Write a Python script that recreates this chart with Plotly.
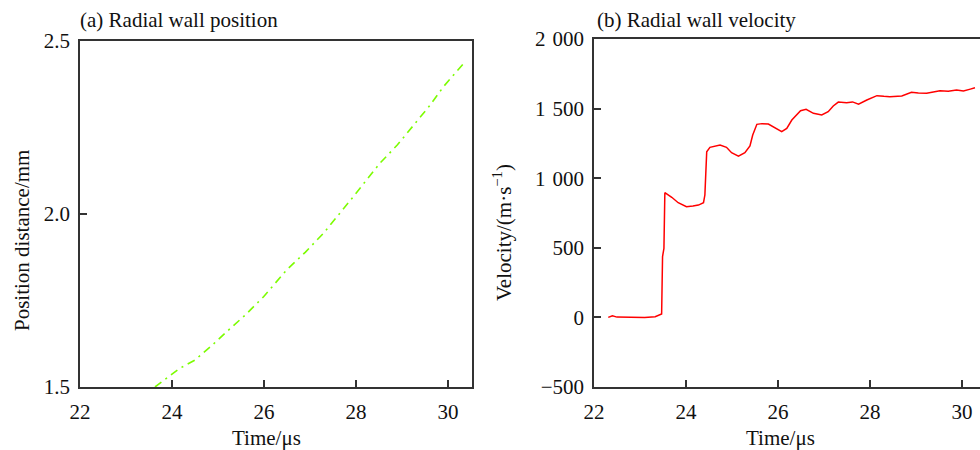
import plotly.graph_objects as go

# (a) radial wall position
pos_time = [23.63, 23.9, 24.17, 24.5, 24.85, 25.19, 25.6, 25.99, 26.49, 26.9, 27.29,
            27.94, 28.52, 28.9, 29.25, 29.6, 29.9, 30.15, 30.33]
pos_mm = [1.500, 1.528, 1.554, 1.578, 1.618, 1.660, 1.709, 1.761, 1.838, 1.890, 1.944,
          2.050, 2.147, 2.200, 2.257, 2.313, 2.368, 2.405, 2.434]

# (b) radial wall velocity
vel_time = [22.31, 22.4, 22.5, 22.8, 23.1, 23.33, 23.47, 23.49, 23.52, 23.54, 23.69, 23.83,
            24.01, 24.15, 24.27, 24.38, 24.41, 24.43, 24.45, 24.52, 24.63, 24.74, 24.88,
            24.99, 25.14, 25.28, 25.39, 25.45, 25.54, 25.65, 25.79, 25.93, 26.08, 26.19,
            26.3, 26.49, 26.61, 26.77, 26.95, 27.09, 27.2, 27.31, 27.49, 27.62, 27.75,
            27.93, 28.15, 28.3, 28.43, 28.69, 28.9, 29.05, 29.23, 29.52, 29.7, 29.88,
            30.03, 30.18, 30.28]
vel_ms = [0, 12, 2, 0, 0, 5, 25, 437, 496, 896, 863, 824,
          795, 800, 807, 824, 879, 1035, 1190, 1222, 1232, 1238, 1222,
          1183, 1159, 1183, 1231, 1310, 1387, 1392, 1389, 1363, 1334, 1358,
          1418, 1485, 1495, 1466, 1454, 1478, 1519, 1547, 1542, 1548, 1531,
          1562, 1593, 1588, 1585, 1590, 1617, 1612, 1610, 1629, 1625, 1634,
          1626, 1640, 1650]

pos_ticks = [1.5, 2.0, 2.5]
pos_ticktext = ["1.5", "2.0", "2.5"]
vel_ticks = [-500, 0, 500, 1000, 1500, 2000]
vel_ticktext = ["\u2212500", "0", "500", "1\u2004000", "1\u2004500", "2\u2004000"]
time_ticks = [22, 24, 26, 28, 30]

W, H = 980, 450
FONT = "Liberation Serif"
AX = "#333333"
FS = 21

fig = go.Figure()
fig.add_trace(go.Scatter(x=pos_time, y=pos_mm, mode="lines", xaxis="x", yaxis="y",
                         line=dict(color="#7CFC00", width=1.6, dash="8px,5px,2px,5px"),
                         showlegend=False))
fig.add_trace(go.Scatter(x=vel_time, y=vel_ms, mode="lines", xaxis="x2", yaxis="y2",
                         line=dict(color="#FF0000", width=1.5), showlegend=False))

common = dict(showgrid=False, zeroline=False, showline=True, linecolor=AX, linewidth=1.5,
              ticks="inside", ticklen=7, tickwidth=1.5, tickcolor=AX, automargin=False,
              tickfont=dict(family=FONT, size=FS, color="#111"))
xcommon = dict(ticklabelstandoff=5, **common)
ycommon = dict(ticklabelstandoff=4, **common)

fig.update_layout(
    width=W, height=H, margin=dict(l=0, r=0, t=0, b=0),
    paper_bgcolor="white", plot_bgcolor="white",
    xaxis=dict(domain=[80 / W, 472 / W], range=[22, 30.52], tickvals=time_ticks,
               mirror=True, anchor="y", **xcommon),
    yaxis=dict(domain=[(H - 387) / H, (H - 41) / H], range=[1.5, 2.5],
               tickvals=pos_ticks, ticktext=pos_ticktext, mirror=True, anchor="x", **ycommon),
    xaxis2=dict(domain=[594 / W, 1.0], range=[22, 30.39], tickvals=time_ticks,
                mirror=True, anchor="y2", **xcommon),
    yaxis2=dict(domain=[(H - 387) / H, (H - 39) / H], range=[-500, 2000],
                tickvals=vel_ticks, ticktext=vel_ticktext, mirror=False, anchor="x2", **ycommon),
)

txt = dict(family=FONT, size=FS, color="#111")
annots = [
    dict(text="(a) Radial wall position", x=78, y=H - 20, xanchor="left", yanchor="middle"),
    dict(text="(b) Radial wall velocity", x=595, y=H - 20, xanchor="left", yanchor="middle"),
    dict(text="Time/\u03bcs", x=266, y=H - 438, xanchor="center", yanchor="middle"),
    dict(text="Time/\u03bcs", x=780, y=H - 438, xanchor="center", yanchor="middle"),
    dict(text="Position distance/mm", x=22, y=H - 241, xanchor="center", yanchor="middle",
         textangle=-90),
    dict(text="Velocity/(m\u00b7s<sup>\u22121</sup>)", x=502, y=H - 233, xanchor="center",
         yanchor="middle", textangle=-90),
]
for a in annots:
    fig.add_annotation(xref="paper", yref="paper", showarrow=False, font=txt,
                       **{**a, "x": a["x"] / W, "y": a["y"] / H})

fig.write_html("out.html")
